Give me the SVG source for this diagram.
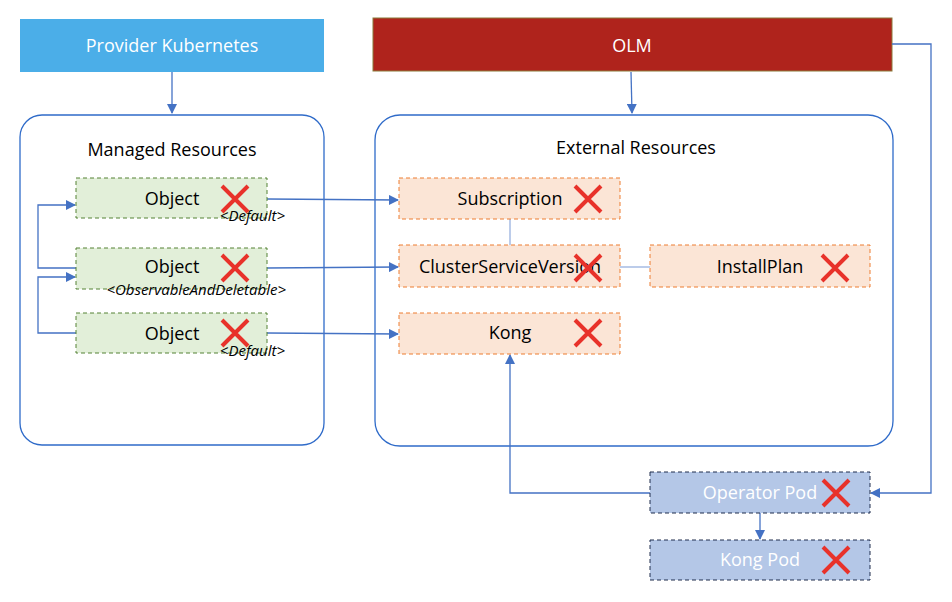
<svg xmlns="http://www.w3.org/2000/svg" width="952" height="602" viewBox="0 0 952 602">
<defs>
<marker id="ah" viewBox="0 0 10 10" refX="9" refY="5" markerWidth="10" markerHeight="10" markerUnits="userSpaceOnUse" orient="auto"><path d="M0,0 L10,5 L0,10 z" fill="#4472C4"/></marker>
<g id="x"><path d="M-13,-13 L13,13 M13,-13 L-13,13" stroke="#E8322A" stroke-width="4" fill="none"/></g>
</defs>
<style>
text{font-family:"Open Sans","Liberation Sans",sans-serif;}
.lbl{font-size:18px;fill:#000;text-anchor:middle;}
.wl{font-size:18px;fill:#fff;text-anchor:middle;}
.sub{font-size:15px;font-style:italic;fill:#000;text-anchor:end;}
.cont{fill:#fff;stroke:#2F6BC9;stroke-width:1.3;}
.obj{fill:#E2EFD9;stroke:#548235;stroke-width:1;stroke-dasharray:4,3;}
.ext{fill:#FBE5D6;stroke:#ED7D31;stroke-width:1;stroke-dasharray:4,3;}
.pod{fill:#B4C7E7;stroke:#1F2D4D;stroke-width:1;stroke-dasharray:4,3;}
.c{fill:none;stroke:#4472C4;stroke-width:1.3;}
.cl{fill:none;stroke:#8FAADC;stroke-width:1.2;}
</style>
<rect width="952" height="602" fill="#fff"/>
<g id="provider"><rect x="20" y="19" width="304" height="53" fill="#4BAEE8"/><text class="wl" x="172" y="52">Provider Kubernetes</text></g>
<g id="olm"><rect x="373" y="18" width="519" height="53" fill="#AF231C" stroke="#8A7A3A" stroke-width="1"/><text class="wl" x="632" y="52">OLM</text></g>
<g id="managed"><rect class="cont" x="20" y="115" width="304" height="330" rx="22"/><text class="lbl" x="172" y="156">Managed Resources</text></g>
<g id="external"><rect class="cont" x="375" y="115" width="518" height="331" rx="25"/><text class="lbl" x="636" y="154">External Resources</text></g>
<g id="connectors">
<path class="c" d="M172,72 V113" marker-end="url(#ah)"/>
<path class="c" d="M631,72 L632,113" marker-end="url(#ah)"/>
<path class="c" d="M76,268 H38 V205 H75" marker-end="url(#ah)"/>
<path class="c" d="M76,333 H38 V277 H75" marker-end="url(#ah)"/>
<path class="c" d="M267,199 L398,200" marker-end="url(#ah)"/>
<path class="c" d="M267,268 L398,267" marker-end="url(#ah)"/>
<path class="c" d="M267,333 L398,334" marker-end="url(#ah)"/>
<path class="cl" d="M510,219 V245"/>
<path class="cl" d="M620,267 H650"/>
<path class="c" d="M892,44 H931 V493 H871" marker-end="url(#ah)"/>
<path class="c" d="M650,493 H510 V355" marker-end="url(#ah)"/>
<path class="c" d="M760,513 V539" marker-end="url(#ah)"/>
</g>
<g id="obj1"><rect class="obj" x="76" y="178" width="191" height="40"/><text class="lbl" x="172" y="205">Object</text><use href="#x" x="235" y="199"/><text class="sub" x="285" y="221">&lt;Default&gt;</text></g>
<g id="obj2"><rect class="obj" x="76" y="248" width="191" height="41"/><text class="lbl" x="172" y="273" font-size="17">Object</text><use href="#x" x="235" y="268"/><text class="sub" x="286" y="295" font-size="14.5">&lt;ObservableAndDeletable&gt;</text></g>
<g id="obj3"><rect class="obj" x="76" y="313" width="191" height="40"/><text class="lbl" x="172" y="340">Object</text><use href="#x" x="235" y="333"/><text class="sub" x="285" y="356">&lt;Default&gt;</text></g>
<g id="subscription"><rect class="ext" x="399" y="178" width="221" height="41"/><text class="lbl" x="510" y="205">Subscription</text><use href="#x" x="588" y="199"/></g>
<g id="csv"><rect class="ext" x="399" y="245" width="221" height="42"/><text class="lbl" x="510" y="273">ClusterServiceVersion</text><use href="#x" x="588" y="268"/></g>
<g id="installplan"><rect class="ext" x="650" y="245" width="220" height="42"/><text class="lbl" x="760" y="273">InstallPlan</text><use href="#x" x="835" y="268"/></g>
<g id="kong"><rect class="ext" x="399" y="313" width="221" height="41"/><text class="lbl" x="510" y="339">Kong</text><use href="#x" x="588" y="333"/></g>
<g id="operatorpod"><rect class="pod" x="650" y="472" width="220" height="41"/><text class="wl" x="760" y="499">Operator Pod</text><use href="#x" x="836" y="493"/></g>
<g id="kongpod"><rect class="pod" x="650" y="540" width="220" height="40"/><text class="wl" x="760" y="566">Kong Pod</text><use href="#x" x="836" y="560"/></g>
</svg>
